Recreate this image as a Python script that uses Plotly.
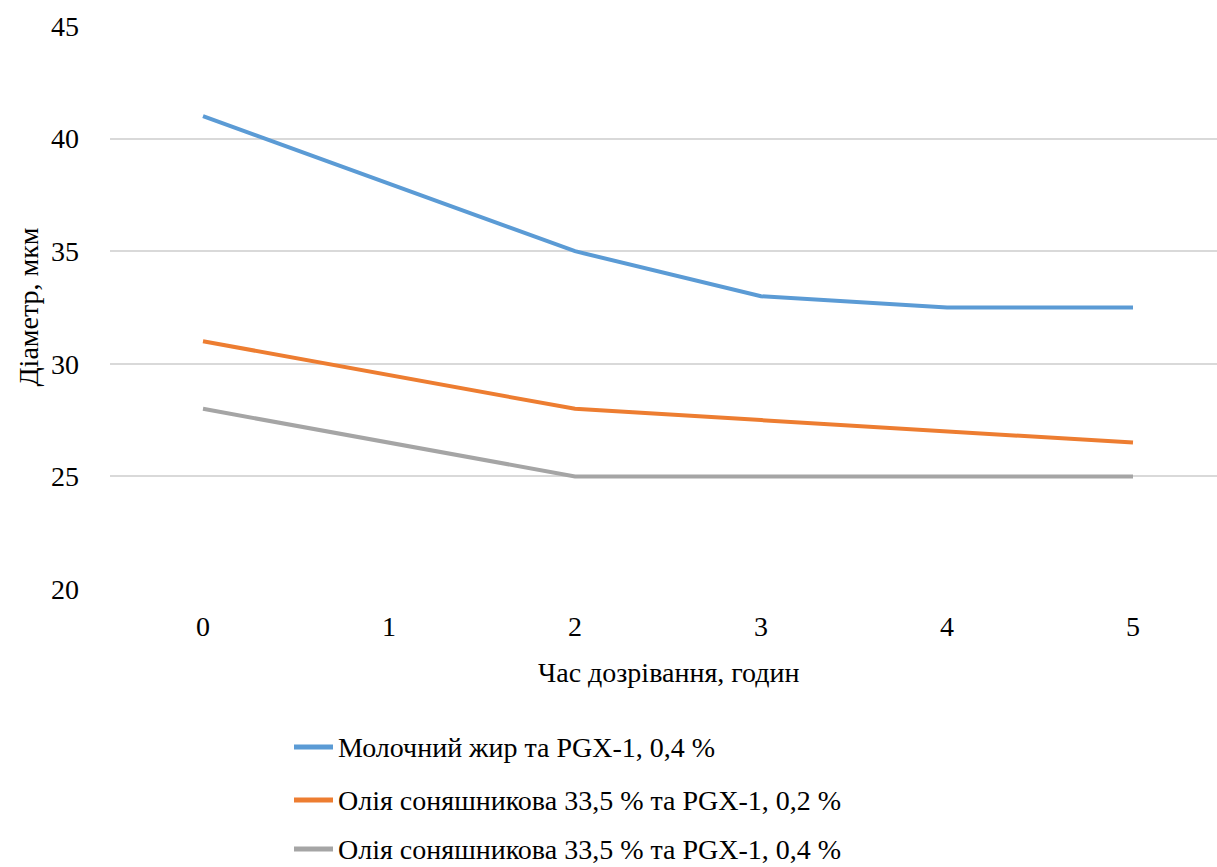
import plotly.graph_objects as go

hours = [0, 1, 2, 3, 4, 5]
milk_fat_04 = [41, 38, 35, 33, 32.5, 32.5]
sunflower_02 = [31, 29.5, 28, 27.5, 27, 26.5]
sunflower_04 = [28, 26.5, 25, 25, 25, 25]
names = [
    "Молочний жир та PGX-1, 0,4 %",
    "Олія соняшникова 33,5 % та PGX-1, 0,2 %",
    "Олія соняшникова 33,5 % та PGX-1, 0,4 %",
]
colors = ["#5B9BD5", "#ED7D31", "#A5A5A5"]
y_ticks = [20, 25, 30, 35, 40, 45]

FONT = "Tinos"
FS = 28
W, H = 1217, 867
ML, MT = 110, 26
plot_w = W - ML
plot_h = 563
MB = H - MT - plot_h


def fnt(size=FS):
    return dict(family=FONT, size=size, color="black")


fig = go.Figure()
for name, ys, c in zip(names, [milk_fat_04, sunflower_02, sunflower_04], colors):
    fig.add_trace(go.Scatter(x=hours, y=ys, mode="lines", name=name,
                             line=dict(color=c, width=4), showlegend=False))

# legend drawn manually (longer sample lines, wider row spacing as in reference)
shapes = []
annotations = []
row_y = [747, 800, 849]
for name, c, py in zip(names, colors, row_y):
    yp = -(py - (MT + plot_h)) / plot_h
    shapes.append(dict(type="line", xref="paper", yref="paper",
                       x0=(294 - ML) / plot_w, x1=(333 - ML) / plot_w,
                       y0=yp, y1=yp, line=dict(color=c, width=5)))
    annotations.append(dict(text=name, xref="paper", yref="paper",
                            x=(336 - ML) / plot_w, y=yp, xanchor="left",
                            yanchor="middle", showarrow=False, font=fnt()))

annotations += [
    dict(text="Час дозрівання, годин", x=2.5, xref="x",
         y=-(672 - 589) / plot_h, yref="paper", showarrow=False,
         xanchor="center", yanchor="middle", font=fnt()),
    dict(text="Діаметр, мкм", x=-(ML - 28) / plot_w, xref="paper",
         y=0.5, yref="paper", showarrow=False, textangle=-90,
         xanchor="center", yanchor="middle", font=fnt()),
]

fig.update_layout(
    width=W, height=H,
    margin=dict(l=ML, r=0, t=MT, b=MB, pad=0),
    paper_bgcolor="white", plot_bgcolor="white",
    showlegend=False,
    xaxis=dict(range=[-0.5, -0.5 + plot_w / 186], tickmode="array",
               tickvals=hours, ticktext=[str(h) for h in hours],
               showgrid=False, zeroline=False, showline=False, ticks="",
               ticklabelstandoff=18, tickfont=fnt()),
    yaxis=dict(range=[20, 45], tickmode="array", tickvals=y_ticks,
               ticktext=[str(v) for v in y_ticks],
               showgrid=True, gridcolor="#D9D9D9", gridwidth=2,
               zeroline=False, showline=False, ticks="",
               ticklabelstandoff=30, tickfont=fnt()),
    shapes=shapes,
    annotations=annotations,
)

fig.write_html("out.html")
